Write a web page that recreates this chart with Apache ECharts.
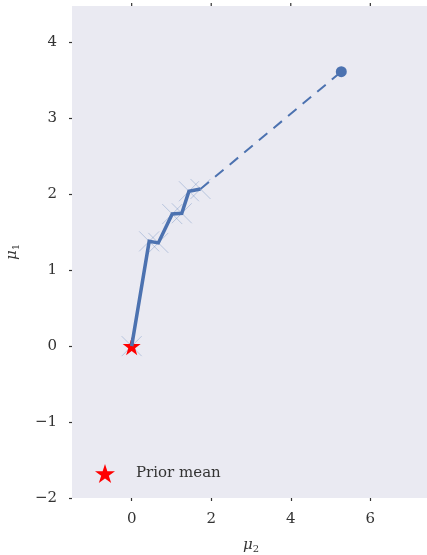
<!DOCTYPE html>
<html><head><meta charset="utf-8">
<script src="https://cdn.jsdelivr.net/npm/echarts@6/dist/echarts.min.js"></script>
<style>html,body{margin:0;padding:0;background:#fff}#c{width:427px;height:555px}</style>
</head><body><div id="c"></div>
<script>
const pathX = [0, 0.44, 0.67, 1.02, 1.26, 1.44, 1.73];
const pathY = [0, 1.38, 1.36, 1.74, 1.75, 2.04, 2.07];
const finalX = [1.73, 5.27];
const finalY = [2.07, 3.615];
const priorMean = [0, 0];
const xTicks = [0, 2, 4, 6];
const yTicks = [-2, -1, 0, 1, 2, 3, 4];

const STAR = 'path://M0,-10L2.245,-3.09L9.51,-3.09L3.633,1.18L5.878,8.09L0,3.82L-5.878,8.09L-3.633,1.18L-9.51,-3.09L-2.245,-3.09Z';
const CROSS = 'path://M-10,-10L10,10M-10,10L10,-10';
const serif = 'DejaVu Serif';
const fmt = v => (v < 0 ? '\u2212' + (-v) : '' + v);

const chart = echarts.init(document.getElementById('c'), null, {renderer: 'canvas'});
const axisCommon = {
  axisLine: {show: false, onZero: false},
  splitLine: {show: false},
  axisTick: {show: true, length: 3, inside: false, lineStyle: {color: '#333', width: 1.2}},
  axisLabel: {color: '#333', fontFamily: serif, fontSize: 15, formatter: fmt}
};
const nameRich = {
  m: {fontFamily: serif, fontStyle: 'italic', fontSize: 15, color: '#333'},
  s: {fontFamily: serif, fontSize: 10, color: '#333', verticalAlign: 'bottom', padding: [8, 0, 0, 0]}
};
chart.setOption({
  animation: false,
  backgroundColor: '#fff',
  grid: {left: 72, top: 6, width: 358, bottom: 57, containLabel: false, outerBoundsMode: 'none',
         show: true, backgroundColor: '#EAEAF2', borderWidth: 0},
  legend: {
    left: 90, top: 459, itemWidth: 20, itemHeight: 20, icon: STAR,
    data: [{name: 'Prior mean', icon: STAR, itemStyle: {color: 'red', opacity: 1}}],
    textStyle: {color: '#333', fontFamily: serif, fontSize: 15, padding: [0, 0, 0, 16]}
  },
  xAxis: Object.assign({}, axisCommon, {
    type: 'value', min: -1.5, max: 7.5, interval: 2,
    axisLabel: Object.assign({}, axisCommon.axisLabel, {margin: 14, customValues: xTicks}),
    axisTick: Object.assign({}, axisCommon.axisTick, {customValues: xTicks}),
    name: '{m|\u03bc}{s|2}', nameLocation: 'middle', nameGap: 38,
    nameTextStyle: {rich: nameRich}
  }),
  yAxis: Object.assign({}, axisCommon, {
    type: 'value', min: -2, max: 4.48, interval: 1,
    axisLabel: Object.assign({}, axisCommon.axisLabel, {margin: 15, customValues: yTicks}),
    axisTick: Object.assign({}, axisCommon.axisTick, {customValues: yTicks}),
    name: '{m|\u03bc}{s|1}', nameLocation: 'middle', nameGap: 51, nameRotate: 90,
    nameTextStyle: {rich: nameRich}
  }),
  series: [
    {
      type: 'scatter', name: 'samples', symbol: CROSS, symbolSize: 20, z: 1,
      itemStyle: {color: 'none', borderColor: 'rgba(76,114,176,0.32)', borderWidth: 1, opacity: 1},
      data: pathX.map((x, i) => [x, pathY[i]]), silent: true
    },
    {
      type: 'scatter', name: 'Prior mean', symbol: STAR, symbolSize: 18, z: 2,
      itemStyle: {color: 'red', opacity: 1}, data: [priorMean]
    },
    {
      type: 'line', name: 'path', z: 3, showSymbol: false, symbol: 'none',
      lineStyle: {color: '#4C72B0', width: 3.5, cap: 'butt', join: 'miter'},
      data: pathX.map((x, i) => [x, pathY[i]])
    },
    {
      type: 'line', name: 'dash', z: 3, symbol: 'none',
      lineStyle: {color: '#4C72B0', width: 2, type: [11, 8]},
      data: finalX.map((x, i) => [x, finalY[i]])
    },
    {
      type: 'scatter', name: 'end', z: 4, symbol: 'circle', symbolSize: 11,
      itemStyle: {color: '#4C72B0', opacity: 1}, data: [[finalX[1], finalY[1]]]
    }
  ]
});
const topTicks = xTicks.map(v => {
  const p = chart.convertToPixel({gridIndex: 0}, [v, 4.48]);
  return {type: 'line', shape: {x1: p[0], y1: p[1], x2: p[0], y2: p[1] - 3}, style: {stroke: '#333', lineWidth: 1.2}};
});
chart.setOption({graphic: topTicks});
</script></body></html>
